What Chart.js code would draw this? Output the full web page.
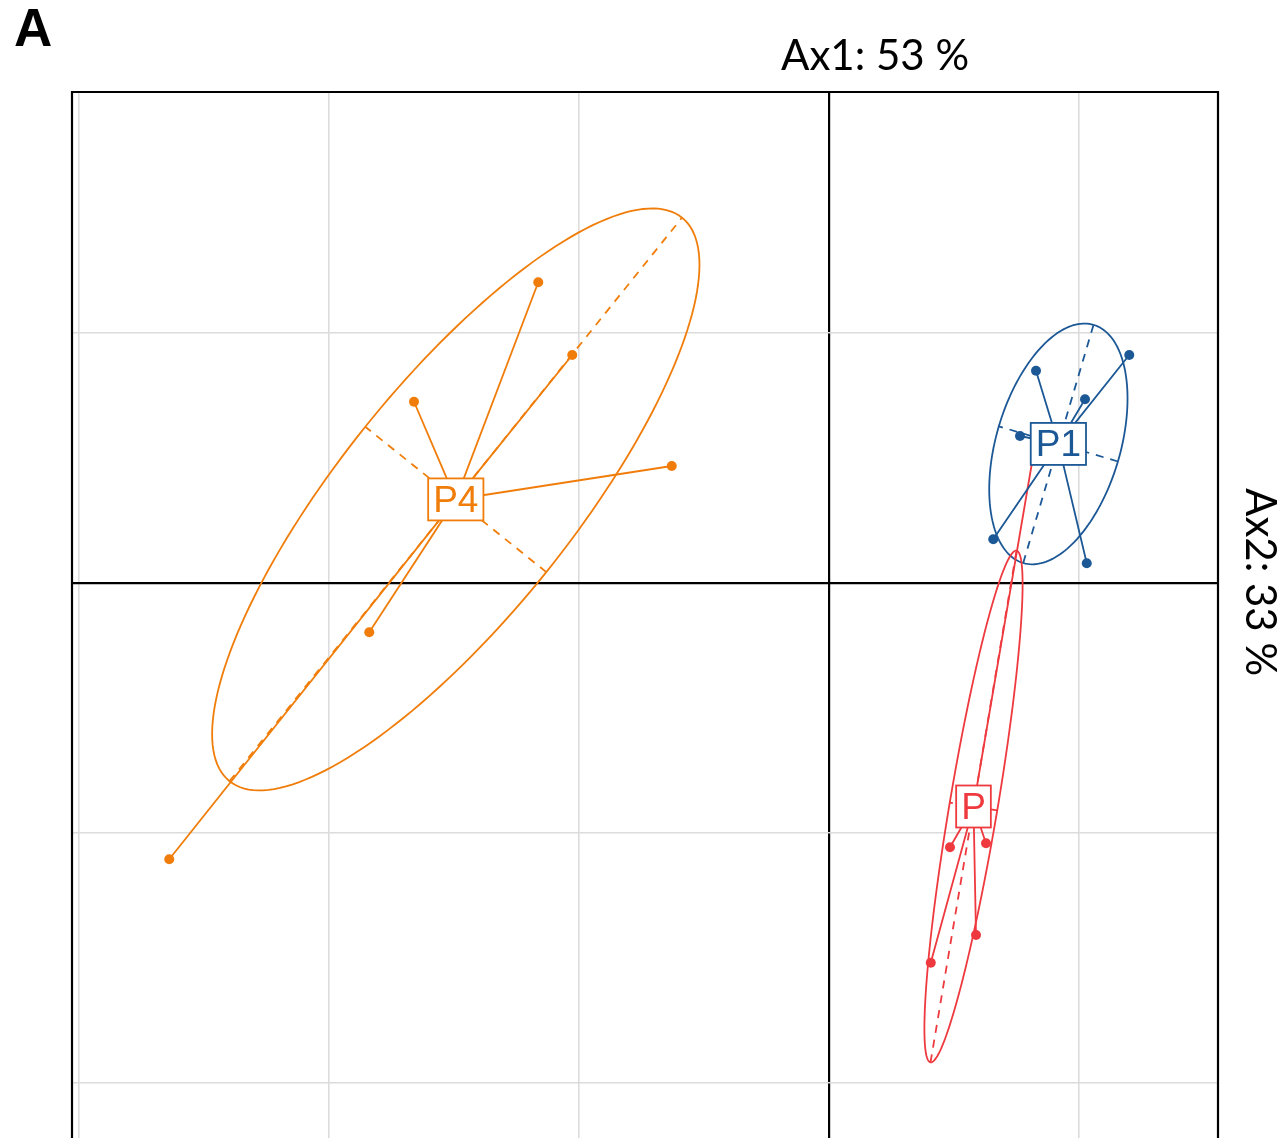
<!DOCTYPE html>
<html>
<head>
<meta charset="utf-8">
<script src="https://cdn.jsdelivr.net/npm/chart.js@4.4.1/dist/chart.umd.min.js"></script>
<style>
  html, body { margin: 0; padding: 0; background: #fff; overflow: hidden; }
  canvas { display: block; }
</style>
</head>
<body>
<canvas id="chart" width="1286" height="1138"></canvas>
<script>
// group scores on the first two axes
const groupNames = ["P4", "P1", "P"];
const groupColors = ["#F07D0A", "#1C5896", "#EE3A3F"];

const p4X = [-1.163, -1.027, -1.660, -0.629, -1.839, -2.639];
const p4Y = [1.203, 0.912, 0.725, 0.468, -0.197, -1.105];

const p1X = [0.828, 1.201, 1.024, 0.764, 0.657, 1.031];
const p1Y = [0.849, 0.912, 0.735, 0.588, 0.175, 0.079];

const pX = [0.484, 0.628, 0.588, 0.407, 0.824, 0.537];
const pY = [-1.057, -1.041, -1.408, -1.519, 0.552, -0.891];

const xTicks = [-3, -2, -1, 0, 1];
const yTicks = [-2, -1, 0, 1];
const xRange = [-3.028, 1.556];
const yRange = [-2.22, 1.964];

const panelLabel = "A";
const xTitle = "Ax1: 53 %";
const yTitle = "Ax2: 33 %";
const ellipseSize = 1.5;

const groups = [
  { name: groupNames[0], color: groupColors[0], xs: p4X, ys: p4Y },
  { name: groupNames[1], color: groupColors[1], xs: p1X, ys: p1Y },
  { name: groupNames[2], color: groupColors[2], xs: pX, ys: pY },
];

function mean(a) {
  return a.reduce((s, v) => s + v, 0) / a.length;
}

groups.forEach((g) => {
  g.cx = mean(g.xs);
  g.cy = mean(g.ys);
  const n = g.xs.length;
  let vx = 0, vy = 0, cv = 0;
  for (let i = 0; i < n; i++) {
    const dx = g.xs[i] - g.cx;
    const dy = g.ys[i] - g.cy;
    vx += dx * dx;
    vy += dy * dy;
    cv += dx * dy;
  }
  vx /= n; vy /= n; cv /= n;
  const half = (vx + vy) / 2;
  const disc = Math.sqrt(((vx - vy) / 2) ** 2 + cv * cv);
  const l1 = half + disc;
  const l2 = Math.max(half - disc, 0);
  let ux = cv, uy = l1 - vx;
  if (Math.abs(cv) < 1e-12) { ux = vx >= vy ? 1 : 0; uy = vx >= vy ? 0 : 1; }
  const len = Math.hypot(ux, uy);
  g.u = [ux / len, uy / len];
  g.v = [-g.u[1], g.u[0]];
  g.r1 = ellipseSize * Math.sqrt(l1);
  g.r2 = ellipseSize * Math.sqrt(l2);
});

const datasets = [];
groups.forEach((g) => {
  // star: center -> point -> center -> ...
  const star = [];
  g.xs.forEach((x, i) => {
    star.push({ x: g.cx, y: g.cy });
    star.push({ x: x, y: g.ys[i] });
  });
  datasets.push({
    label: g.name + " star",
    data: star,
    showLine: true,
    borderColor: g.color,
    borderWidth: 1.8,
    pointRadius: 0,
    pointHoverRadius: 0,
    order: 2,
  });
  datasets.push({
    label: g.name,
    data: g.xs.map((x, i) => ({ x: x, y: g.ys[i] })),
    showLine: false,
    backgroundColor: g.color,
    borderColor: g.color,
    borderWidth: 0,
    pointRadius: 5,
    order: 1,
  });
});

const ellipsePlugin = {
  id: "ellipses",
  beforeDatasetsDraw(chart) {
    const { ctx, chartArea, scales } = chart;
    const px = (x, y) => [scales.x.getPixelForValue(x), scales.y.getPixelForValue(y)];
    ctx.save();
    ctx.beginPath();
    ctx.rect(chartArea.left, chartArea.top, chartArea.right - chartArea.left, chartArea.bottom - chartArea.top);
    ctx.clip();
    groups.forEach((g) => {
      ctx.strokeStyle = g.color;
      ctx.lineWidth = 1.8;
      ctx.setLineDash([]);
      ctx.beginPath();
      for (let k = 0; k <= 180; k++) {
        const t = (k / 180) * Math.PI * 2;
        const a = g.r1 * Math.cos(t), b = g.r2 * Math.sin(t);
        const p = px(g.cx + a * g.u[0] + b * g.v[0], g.cy + a * g.u[1] + b * g.v[1]);
        if (k === 0) ctx.moveTo(p[0], p[1]); else ctx.lineTo(p[0], p[1]);
      }
      ctx.stroke();
      // dashed ellipse axes
      ctx.setLineDash([8, 7]);
      [[g.u, g.r1], [g.v, g.r2]].forEach(([d, r]) => {
        const p0 = px(g.cx - r * d[0], g.cy - r * d[1]);
        const p1 = px(g.cx + r * d[0], g.cy + r * d[1]);
        ctx.beginPath();
        ctx.moveTo(p0[0], p0[1]);
        ctx.lineTo(p1[0], p1[1]);
        ctx.stroke();
      });
    });
    ctx.restore();
  },
  afterDatasetsDraw(chart) {
    const { ctx, scales } = chart;
    ctx.save();
    ctx.font = "37px 'Liberation Sans', Arial, sans-serif";
    ctx.textAlign = "center";
    ctx.textBaseline = "middle";
    groups.forEach((g) => {
      const x = scales.x.getPixelForValue(g.cx);
      const y = scales.y.getPixelForValue(g.cy);
      const w = ctx.measureText(g.name).width + 10;
      const h = 42;
      ctx.fillStyle = "#fff";
      ctx.fillRect(x - w / 2, y - h / 2, w, h);
      ctx.strokeStyle = g.color;
      ctx.lineWidth = 1.8;
      ctx.strokeRect(x - w / 2, y - h / 2, w, h);
      ctx.fillStyle = g.color;
      ctx.fillText(g.name, x, y + 2);
    });
    ctx.restore();
  },
  afterDraw(chart) {
    const { ctx, chartArea } = chart;
    ctx.save();
    // frame
    ctx.strokeStyle = "#000";
    ctx.lineWidth = 2.2;
    ctx.beginPath();
    ctx.moveTo(chartArea.left, chartArea.bottom);
    ctx.lineTo(chartArea.left, chartArea.top);
    ctx.lineTo(chartArea.right, chartArea.top);
    ctx.lineTo(chartArea.right, chartArea.bottom);
    ctx.stroke();
    // titles
    ctx.fillStyle = "#000";
    ctx.font = "bold 53px 'Liberation Sans', Arial, sans-serif";
    ctx.textAlign = "left";
    ctx.textBaseline = "alphabetic";
    ctx.fillText(panelLabel, 14, 46);
    ctx.font = "42px Lato, 'Open Sans', sans-serif";
    ctx.textAlign = "center";
    ctx.fillText(xTitle, 875, 70);
    ctx.translate(1246, 582);
    ctx.rotate(Math.PI / 2);
    ctx.fillText(yTitle, 0, 0);
    ctx.restore();
  },
};

const gridColor = (c) => (c.tick && c.tick.value === 0 ? "#000" : "#dcdcdc");
const gridWidth = (c) => (c.tick && c.tick.value === 0 ? 2.2 : 1.6);

new Chart(document.getElementById("chart").getContext("2d"), {
  type: "scatter",
  data: { datasets: datasets },
  options: {
    responsive: false,
    animation: false,
    events: [],
    // no auto padding for the points, the frame has to run off the bottom of the page
    layout: { autoPadding: false, padding: { left: 72, top: 92, right: 68, bottom: 0 } },
    plugins: { legend: { display: false }, tooltip: { enabled: false } },
    scales: {
      x: {
        type: "linear",
        min: xRange[0],
        max: xRange[1],
        afterBuildTicks: (s) => { s.ticks = xTicks.map((v) => ({ value: v })); },
        afterFit: (s) => { s.height = 0; },
        ticks: { display: false },
        grid: { color: gridColor, lineWidth: gridWidth, drawTicks: false },
        border: { display: false },
      },
      y: {
        type: "linear",
        min: yRange[0],
        max: yRange[1],
        afterBuildTicks: (s) => { s.ticks = yTicks.map((v) => ({ value: v })); },
        afterFit: (s) => { s.width = 0; },
        ticks: { display: false },
        grid: { color: gridColor, lineWidth: gridWidth, drawTicks: false },
        border: { display: false },
      },
    },
  },
  plugins: [ellipsePlugin],
});
</script>
</body>
</html>
